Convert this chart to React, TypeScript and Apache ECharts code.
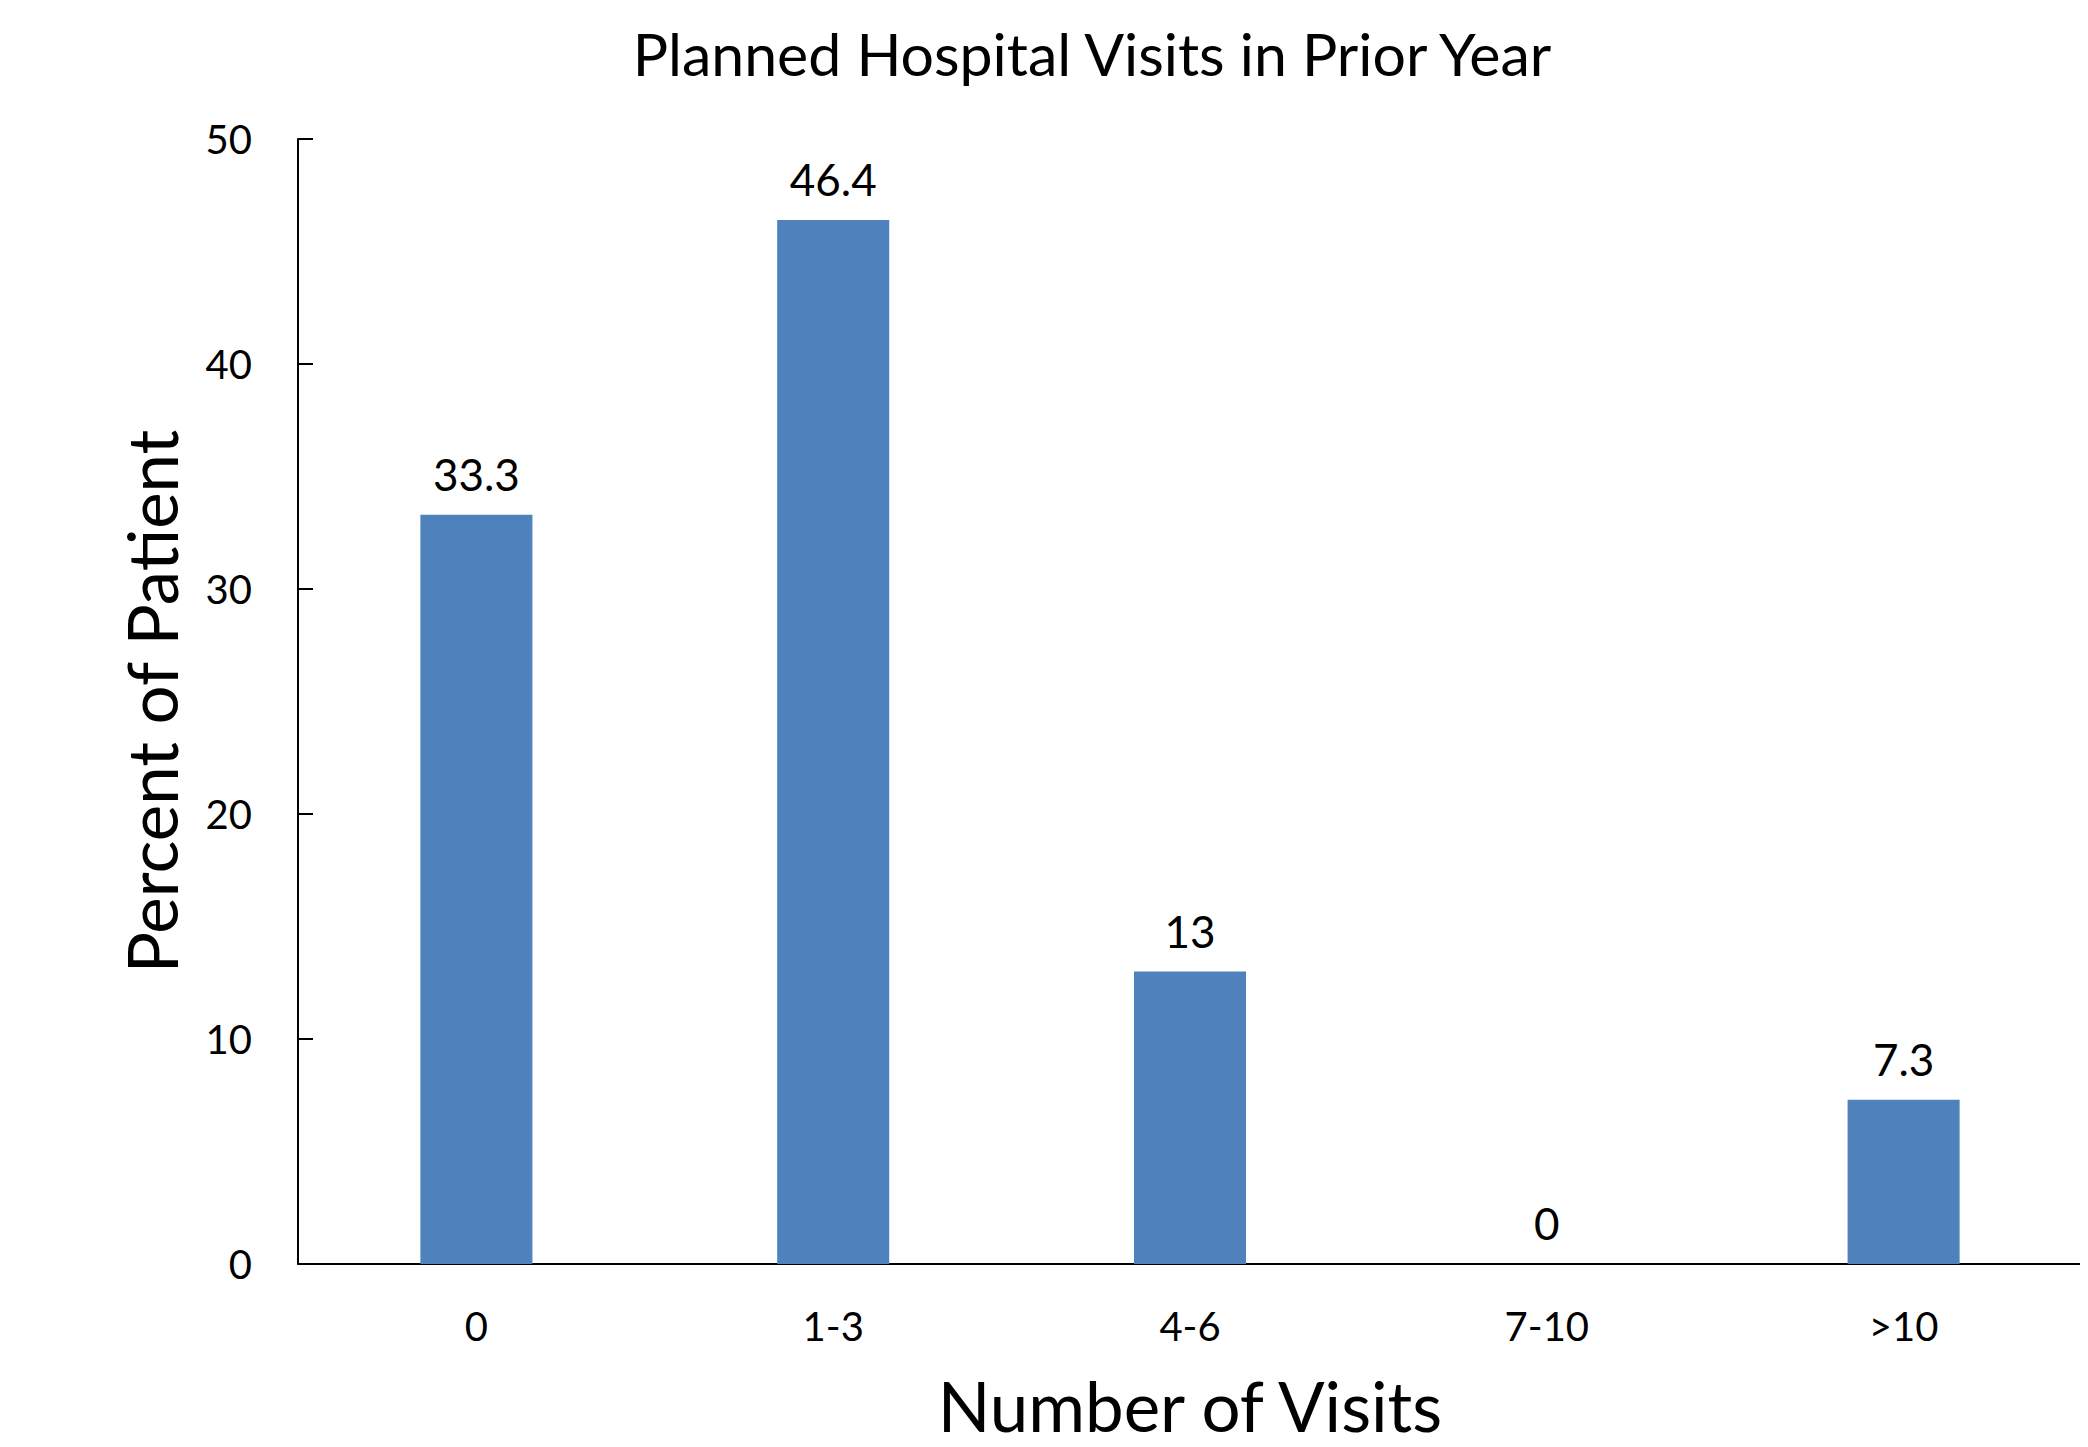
import React, { useEffect, useRef } from "react";
import * as echarts from "echarts";

// Share of patients by number of planned hospital visits in the prior year
const categories = ["0", "1-3", "4-6", "7-10", ">10"];
const percentPatients = [33.3, 46.4, 13, 0, 7.3];
const yTicks = { min: 0, max: 50, interval: 10 };

const FONT = "Lato, 'Open Sans', sans-serif";

export default function App() {
  const ref = useRef<HTMLDivElement>(null);

  useEffect(() => {
    if (!ref.current) return;
    const chart = echarts.init(ref.current, null, { renderer: "svg" });
    chart.setOption({
      animation: false,
      backgroundColor: "#ffffff",
      textStyle: { fontFamily: FONT, color: "#000" },
      title: {
        text: "Planned Hospital Visits in Prior Year",
        left: 1087,
        top: 19,
        textAlign: "center",
        textStyle: { fontFamily: FONT, fontSize: 59, fontWeight: "normal", color: "#000" },
      },
      grid: { left: 298, right: 6, top: 139, bottom: 183, containLabel: false },
      xAxis: {
        type: "category",
        data: categories,
        name: "Number of Visits",
        nameLocation: "middle",
        nameGap: 107,
        nameTextStyle: { fontFamily: FONT, fontSize: 69, color: "#000" },
        axisLine: { show: true, lineStyle: { color: "#000", width: 2 } },
        axisTick: { show: false },
        axisLabel: { fontFamily: FONT, fontSize: 40, color: "#000", margin: 42 },
        splitLine: { show: false },
      },
      yAxis: {
        type: "value",
        min: yTicks.min,
        max: yTicks.max,
        interval: yTicks.interval,
        name: "Percent of Patient",
        nameLocation: "middle",
        nameGap: 112,
        nameTextStyle: { fontFamily: FONT, fontSize: 69, color: "#000" },
        axisLine: { show: true, lineStyle: { color: "#000", width: 2 } },
        axisTick: { show: true, inside: true, length: 15, lineStyle: { color: "#000", width: 2 } },
        axisLabel: { fontFamily: FONT, fontSize: 40, color: "#000", margin: 46 },
        splitLine: { show: false },
      },
      series: [
        {
          type: "bar",
          data: percentPatients,
          barWidth: "31.4%",
          itemStyle: { color: "#4F81BD" },
          label: {
            show: true,
            position: "top",
            distance: 19,
            fontFamily: FONT,
            fontSize: 44,
            color: "#000",
          },
        },
      ],
    });
    return () => chart.dispose();
  }, []);

  return <div ref={ref} style={{ width: 2088, height: 1447, margin: -8 }} />;
}
